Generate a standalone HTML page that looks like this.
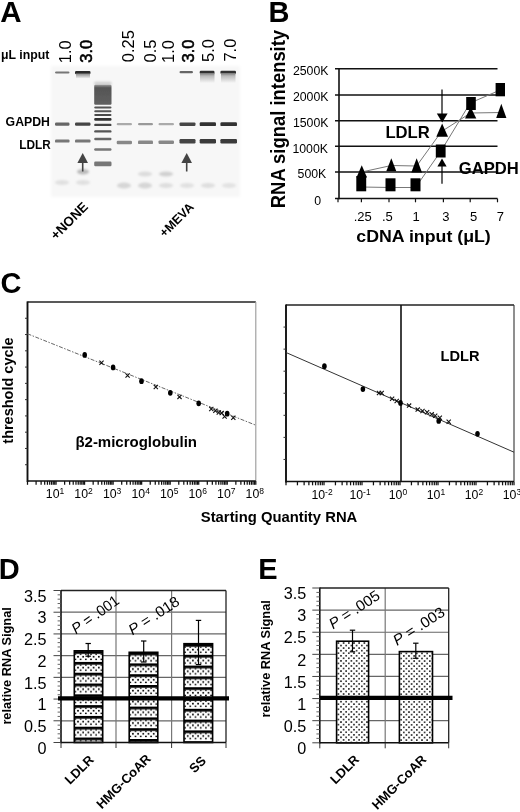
<!DOCTYPE html>
<html><head><meta charset="utf-8"><style>
html,body{margin:0;padding:0;background:#fff;overflow:hidden;}
svg{display:block;will-change:transform;}
text{font-family:"Liberation Sans",sans-serif;}
</style></head><body>
<svg width="520" height="812" viewBox="0 0 520 812">
<defs>
<filter id="b1" x="-20%" y="-100%" width="140%" height="300%"><feGaussianBlur stdDeviation="0.65"/></filter>
<filter id="b2" x="-50%" y="-100%" width="200%" height="300%"><feGaussianBlur stdDeviation="1.2"/></filter>
<linearGradient id="smear" x1="0" y1="0" x2="0" y2="1"><stop offset="0" stop-color="#777"/><stop offset="0.3" stop-color="#bbb"/><stop offset="1" stop-color="#f7f7f7"/></linearGradient>
<linearGradient id="smear2" x1="0" y1="0" x2="0" y2="1"><stop offset="0" stop-color="#888"/><stop offset="1" stop-color="#f4f4f4"/></linearGradient>
<linearGradient id="lad" x1="0" y1="0" x2="0" y2="1"><stop offset="0" stop-color="#999"/><stop offset="0.15" stop-color="#555"/><stop offset="1" stop-color="#606060"/></linearGradient>
<filter id="soft"><feGaussianBlur stdDeviation="1.5"/></filter>
<pattern id="pd74" patternUnits="userSpaceOnUse" x="75.39999999999999" y="651.1222857142857" width="5.2" height="10.8">
<rect width="5.2" height="10.8" fill="#fff"/>
<rect width="5.2" height="2.6" fill="#000"/>
<path d="M-1.6 2.5 L1.6 2.5 L0 4.1 Z M3.6 2.5 L6.8 2.5 L5.2 4.1 Z M1.8 2.5 L3.4 2.5 L2.6 3.2 Z" fill="#000"/>
<circle cx="2.6" cy="5.6" r="0.95" fill="#000"/>
<circle cx="0" cy="8.2" r="0.95" fill="#000"/><circle cx="5.2" cy="8.2" r="0.95" fill="#000"/>
</pattern>
<pattern id="pd129" patternUnits="userSpaceOnUse" x="130.29999999999998" y="652.5988571428571" width="5.2" height="10.8">
<rect width="5.2" height="10.8" fill="#fff"/>
<rect width="5.2" height="2.6" fill="#000"/>
<path d="M-1.6 2.5 L1.6 2.5 L0 4.1 Z M3.6 2.5 L6.8 2.5 L5.2 4.1 Z M1.8 2.5 L3.4 2.5 L2.6 3.2 Z" fill="#000"/>
<circle cx="2.6" cy="5.6" r="0.95" fill="#000"/>
<circle cx="0" cy="8.2" r="0.95" fill="#000"/><circle cx="5.2" cy="8.2" r="0.95" fill="#000"/>
</pattern>
<pattern id="pd184" patternUnits="userSpaceOnUse" x="185.1" y="644.0" width="5.2" height="10.8">
<rect width="5.2" height="10.8" fill="#fff"/>
<rect width="5.2" height="2.6" fill="#000"/>
<path d="M-1.6 2.5 L1.6 2.5 L0 4.1 Z M3.6 2.5 L6.8 2.5 L5.2 4.1 Z M1.8 2.5 L3.4 2.5 L2.6 3.2 Z" fill="#000"/>
<circle cx="2.6" cy="5.6" r="0.95" fill="#000"/>
<circle cx="0" cy="8.2" r="0.95" fill="#000"/><circle cx="5.2" cy="8.2" r="0.95" fill="#000"/>
</pattern>
<pattern id="pe336" patternUnits="userSpaceOnUse" x="338.40000000000003" y="643.0069714285713" width="5.2" height="5.1">
<rect width="5.2" height="5.1" fill="#fff"/>
<circle cx="0" cy="0" r="0.9" fill="#000"/><circle cx="5.2" cy="0" r="0.9" fill="#000"/><circle cx="0" cy="5.1" r="0.9" fill="#000"/><circle cx="5.2" cy="5.1" r="0.9" fill="#000"/>
<circle cx="2.6" cy="2.55" r="0.9" fill="#000"/>
</pattern>
<pattern id="pe399" patternUnits="userSpaceOnUse" x="401.2" y="653.4006857142856" width="5.2" height="5.1">
<rect width="5.2" height="5.1" fill="#fff"/>
<circle cx="0" cy="0" r="0.9" fill="#000"/><circle cx="5.2" cy="0" r="0.9" fill="#000"/><circle cx="0" cy="5.1" r="0.9" fill="#000"/><circle cx="5.2" cy="5.1" r="0.9" fill="#000"/>
<circle cx="2.6" cy="2.55" r="0.9" fill="#000"/>
</pattern>
</defs>
<rect width="520" height="812" fill="#fff"/>
<text x="0.3" y="21.8" font-size="29.5" font-weight="bold" text-anchor="start" fill="#000" >A</text>
<text x="1" y="58.7" font-size="12.3" font-weight="bold" text-anchor="start" fill="#000" >&#956;L input</text>
<text x="50" y="126.3" font-size="12.3" font-weight="bold" text-anchor="end" textLength="44.4" lengthAdjust="spacingAndGlyphs" fill="#000" >GAPDH</text>
<text x="50.9" y="148.8" font-size="12.3" font-weight="bold" text-anchor="end" textLength="31.6" lengthAdjust="spacingAndGlyphs" fill="#000" >LDLR</text>
<rect x="51" y="66" width="189" height="131" fill="#f7f7f7" filter="url(#soft)"/>
<text transform="translate(71.2,63.3) rotate(-90)" font-size="16.5" text-anchor="start" fill="#000" >1.0</text>
<text transform="translate(91.8,62.8) rotate(-90)" font-size="16.5" text-anchor="start" fill="#000" stroke="#000" stroke-width="0.55">3.0</text>
<text transform="translate(134.4,62.2) rotate(-90)" font-size="16.5" text-anchor="start" fill="#000" >0.25</text>
<text transform="translate(155.9,62.5) rotate(-90)" font-size="16.5" text-anchor="start" fill="#000" >0.5</text>
<text transform="translate(173.7,63) rotate(-90)" font-size="16.5" text-anchor="start" fill="#000" >1.0</text>
<text transform="translate(194.4,62.4) rotate(-90)" font-size="16.5" text-anchor="start" fill="#000" stroke="#000" stroke-width="0.55">3.0</text>
<text transform="translate(214,62) rotate(-90)" font-size="16.5" text-anchor="start" fill="#000" >5.0</text>
<text transform="translate(236,61.6) rotate(-90)" font-size="16.5" text-anchor="start" fill="#000" >7.0</text>
<rect x="55" y="71.4" width="14.5" height="2" rx="1.2" fill="#777" filter="url(#b1)"/>
<rect x="75" y="71.0" width="15.5" height="3.2" rx="1.2" fill="#2a2a2a" filter="url(#b1)"/>
<rect x="179.5" y="71.10000000000001" width="13.5" height="2.2" rx="1.2" fill="#666" filter="url(#b1)"/>
<rect x="199.7" y="70.7" width="14.800000000000011" height="3.2" rx="1.2" fill="#333" filter="url(#b1)"/>
<rect x="220.4" y="70.7" width="15.599999999999994" height="3.2" rx="1.2" fill="#333" filter="url(#b1)"/>
<rect x="200" y="73" width="14.5" height="10" fill="url(#smear)" filter="url(#b1)"/>
<rect x="221" y="73" width="14.5" height="10" fill="url(#smear)" filter="url(#b1)"/>
<rect x="76" y="73.5" width="14" height="5" fill="url(#smear2)" filter="url(#b1)"/>
<rect x="55" y="122.60000000000001" width="14.5" height="3.2" rx="1.2" fill="#666" filter="url(#b1)"/>
<rect x="75" y="122.60000000000001" width="15.5" height="3.2" rx="1.2" fill="#444" filter="url(#b1)"/>
<rect x="116.7" y="123.10000000000001" width="15.299999999999997" height="2.2" rx="1.2" fill="#aaa" filter="url(#b1)"/>
<rect x="138" y="123.10000000000001" width="15" height="2.2" rx="1.2" fill="#999" filter="url(#b1)"/>
<rect x="158.5" y="123.10000000000001" width="15.5" height="2.2" rx="1.2" fill="#aaa" filter="url(#b1)"/>
<rect x="179.5" y="122.4" width="16.0" height="3.6" rx="1.2" fill="#444" filter="url(#b1)"/>
<rect x="199.7" y="122.3" width="16.30000000000001" height="3.8" rx="1.2" fill="#333" filter="url(#b1)"/>
<rect x="220.4" y="122.3" width="16.599999999999994" height="3.8" rx="1.2" fill="#333" filter="url(#b1)"/>
<rect x="55" y="139.4" width="14.5" height="3.2" rx="1.2" fill="#777" filter="url(#b1)"/>
<rect x="75" y="139.4" width="15.5" height="3.2" rx="1.2" fill="#777" filter="url(#b1)"/>
<rect x="116.7" y="140.7" width="15.299999999999997" height="3.6" rx="1.2" fill="#888" filter="url(#b1)"/>
<rect x="138" y="140.5" width="15" height="3.6" rx="1.2" fill="#888" filter="url(#b1)"/>
<rect x="158.5" y="140.39999999999998" width="15.5" height="3.6" rx="1.2" fill="#888" filter="url(#b1)"/>
<rect x="179.5" y="139.10000000000002" width="16.0" height="4.4" rx="1.2" fill="#444" filter="url(#b1)"/>
<rect x="199.7" y="139.0" width="16.30000000000001" height="4.4" rx="1.2" fill="#3a3a3a" filter="url(#b1)"/>
<rect x="220.4" y="139.0" width="16.599999999999994" height="4.4" rx="1.2" fill="#3a3a3a" filter="url(#b1)"/>
<rect x="94.2" y="81.75" width="17.299999999999997" height="3.5" rx="1.2" fill="#d0d0d0" filter="url(#b2)"/>
<rect x="94.2" y="84.8" width="17.3" height="20" rx="1.2" fill="url(#lad)" filter="url(#b1)"/>
<rect x="94.2" y="106.6" width="17.299999999999997" height="2" rx="1.2" fill="#555" filter="url(#b1)"/>
<rect x="94.2" y="110.3" width="17.299999999999997" height="2" rx="1.2" fill="#555" filter="url(#b1)"/>
<rect x="94.2" y="113.9" width="17.299999999999997" height="2.2" rx="1.2" fill="#4a4a4a" filter="url(#b1)"/>
<rect x="94.2" y="117.89999999999999" width="17.299999999999997" height="2.8" rx="1.2" fill="#333" filter="url(#b1)"/>
<rect x="94.2" y="123.7" width="17.299999999999997" height="2.4" rx="1.2" fill="#444" filter="url(#b1)"/>
<rect x="94.2" y="130.20000000000002" width="17.299999999999997" height="2.4" rx="1.2" fill="#555" filter="url(#b1)"/>
<rect x="94.2" y="137.7" width="17.299999999999997" height="2.6" rx="1.2" fill="#666" filter="url(#b1)"/>
<rect x="94.2" y="148.2" width="17.299999999999997" height="2.6" rx="1.2" fill="#777" filter="url(#b1)"/>
<rect x="94.2" y="161.6" width="17.299999999999997" height="4.6" rx="1.2" fill="#777" filter="url(#b1)"/>
<ellipse cx="83" cy="171.8" rx="6" ry="2.8" fill="#bbb" filter="url(#b2)"/>
<ellipse cx="62" cy="182.5" rx="7" ry="2.5" fill="#e0e0e0" filter="url(#b2)"/>
<ellipse cx="83" cy="182.5" rx="7" ry="2.5" fill="#e0e0e0" filter="url(#b2)"/>
<ellipse cx="124" cy="185.5" rx="7" ry="3" fill="#d6d6d6" filter="url(#b2)"/>
<ellipse cx="145" cy="185.5" rx="7" ry="3" fill="#d6d6d6" filter="url(#b2)"/>
<ellipse cx="145" cy="174" rx="7" ry="2.4" fill="#dcdcdc" filter="url(#b2)"/>
<ellipse cx="166" cy="174" rx="7" ry="2.6" fill="#d0d0d0" filter="url(#b2)"/>
<ellipse cx="166" cy="185.5" rx="7" ry="2.5" fill="#dedede" filter="url(#b2)"/>
<ellipse cx="187" cy="185.5" rx="7" ry="2.5" fill="#e0e0e0" filter="url(#b2)"/>
<ellipse cx="208" cy="185.5" rx="7" ry="2.5" fill="#dedede" filter="url(#b2)"/>
<ellipse cx="229" cy="185.5" rx="7" ry="2.5" fill="#e2e2e2" filter="url(#b2)"/>
<path d="M82.7 153 L88.0 163 L77.4 163 Z" fill="#444"/>
<line x1="82.7" y1="162" x2="82.7" y2="171.5" stroke="#444" stroke-width="1.6" />
<path d="M186.7 153 L192.0 163 L181.39999999999998 163 Z" fill="#444"/>
<line x1="186.7" y1="162" x2="186.7" y2="171.5" stroke="#444" stroke-width="1.6" />
<text transform="translate(56,240.5) rotate(-45)" font-size="13.4" font-weight="bold" text-anchor="start" fill="#000" >+NONE</text>
<text transform="translate(164.5,237.8) rotate(-45)" font-size="12.5" font-weight="bold" text-anchor="start" fill="#000" >+MEVA</text>
<text x="268.5" y="21.9" font-size="29" font-weight="bold" text-anchor="start" fill="#000" >B</text>
<text transform="translate(285.2,208.2) rotate(-90)" font-size="19.5" font-weight="bold" text-anchor="start" textLength="178.3" lengthAdjust="spacingAndGlyphs" fill="#000" >RNA signal intensity</text>
<line x1="335" y1="68.7" x2="497.5" y2="68.7" stroke="#111" stroke-width="1.5" />
<text x="328.5" y="75.10000000000001" font-size="12.3" text-anchor="end" fill="#000" >2500K</text>
<line x1="335" y1="95.0" x2="497.5" y2="95.0" stroke="#111" stroke-width="1.5" />
<text x="328.5" y="101.4" font-size="12.3" text-anchor="end" fill="#000" >2000K</text>
<line x1="335" y1="120.8" x2="497.5" y2="120.8" stroke="#111" stroke-width="1.5" />
<text x="328.5" y="127.2" font-size="12.3" text-anchor="end" fill="#000" >1500K</text>
<line x1="335" y1="146.2" x2="497.5" y2="146.2" stroke="#111" stroke-width="1.5" />
<text x="328" y="152.6" font-size="12.3" text-anchor="end" fill="#000" >1000K</text>
<line x1="335" y1="172.0" x2="497.5" y2="172.0" stroke="#111" stroke-width="1.5" />
<text x="326.3" y="178.4" font-size="12.3" text-anchor="end" fill="#000" >500K</text>
<line x1="335" y1="198.6" x2="497.5" y2="198.6" stroke="#111" stroke-width="1.5" />
<text x="321.2" y="205.0" font-size="12.3" text-anchor="end" fill="#000" >0</text>
<line x1="339" y1="68" x2="339" y2="199.3" stroke="#111" stroke-width="1.6" />
<line x1="338" y1="198.6" x2="338" y2="202.3" stroke="#111" stroke-width="1.2" />
<line x1="361.4" y1="198.6" x2="361.4" y2="202.3" stroke="#111" stroke-width="1.2" />
<line x1="389" y1="198.6" x2="389" y2="202.3" stroke="#111" stroke-width="1.2" />
<line x1="415.5" y1="198.6" x2="415.5" y2="202.3" stroke="#111" stroke-width="1.2" />
<line x1="443.4" y1="198.6" x2="443.4" y2="202.3" stroke="#111" stroke-width="1.2" />
<line x1="470.2" y1="198.6" x2="470.2" y2="202.3" stroke="#111" stroke-width="1.2" />
<line x1="497.5" y1="198.6" x2="497.5" y2="202.3" stroke="#111" stroke-width="1.2" />
<text x="353.7" y="221.3" font-size="13" text-anchor="start" fill="#000" >.25</text>
<text x="382" y="221.3" font-size="13" text-anchor="start" fill="#000" >.5</text>
<text x="412.5" y="221.3" font-size="13" text-anchor="start" fill="#000" >1</text>
<text x="442.3" y="221.3" font-size="13" text-anchor="start" fill="#000" >3</text>
<text x="470" y="221.3" font-size="13" text-anchor="start" fill="#000" >5</text>
<text x="496.8" y="221.3" font-size="13" text-anchor="start" fill="#000" >7</text>
<text x="356.3" y="242.2" font-size="16.5" font-weight="bold" text-anchor="start" textLength="134.5" lengthAdjust="spacingAndGlyphs" fill="#000" >cDNA input (&#956;L)</text>
<polyline points="361.7,172 391.3,165.5 416.6,166 441.5,131.5 470.6,113 501.1,112.5" fill="none" stroke="#777" stroke-width="1"/>
<polyline points="361.3,187 390.5,187.5 415.5,187.5 441,151 470.2,103 500.7,89.8" fill="none" stroke="#777" stroke-width="1"/>
<rect x="356.3" y="176" width="9.899999999999977" height="15.300000000000011" fill="#000" />
<rect x="385.5" y="178.3" width="10.0" height="13.0" fill="#000" />
<rect x="410.5" y="178.3" width="10.0" height="13.0" fill="#000" />
<rect x="435.8" y="144.5" width="9.800000000000011" height="13.0" fill="#000" />
<rect x="466.2" y="97" width="9.600000000000023" height="13" fill="#000" />
<rect x="495.6" y="83" width="9.399999999999977" height="13.299999999999997" fill="#000" />
<path d="M361.75 165.2 L367 177.4 L356.5 177.4 Z" fill="#000"/>
<path d="M391.3 158.3 L396.3 171.3 L386.3 171.3 Z" fill="#000"/>
<path d="M416.65 158.3 L422 172.5 L411.3 172.5 Z" fill="#000"/>
<path d="M442.15 123.6 L448 136.8 L436.3 136.8 Z" fill="#000"/>
<path d="M470.65 107 L476.3 118.6 L465 118.6 Z" fill="#000"/>
<path d="M501.29999999999995 103.8 L506.4 118 L496.2 118 Z" fill="#000"/>
<line x1="442" y1="89.4" x2="442" y2="115" stroke="#000" stroke-width="1.2" />
<path d="M436.8 113.6 L447.6 113.6 L442.2 122.6 Z" fill="#000"/>
<path d="M442 158.6 L446.6 166.6 L437.4 166.6 Z" fill="#000"/>
<line x1="442" y1="166" x2="442" y2="183.7" stroke="#000" stroke-width="1.2" />
<text x="385.4" y="137.9" font-size="16.5" font-weight="bold" text-anchor="start" textLength="44.4" lengthAdjust="spacingAndGlyphs" fill="#000" >LDLR</text>
<text x="458.8" y="173.6" font-size="17" font-weight="bold" text-anchor="start" textLength="60" lengthAdjust="spacingAndGlyphs" fill="#000" >GAPDH</text>
<text x="0.5" y="292.7" font-size="29" font-weight="bold" text-anchor="start" fill="#000" >C</text>
<text transform="translate(12.6,443.7) rotate(-90)" font-size="14" font-weight="bold" text-anchor="start" textLength="106.3" lengthAdjust="spacingAndGlyphs" fill="#000" >threshold cycle</text>
<line x1="27.5" y1="302" x2="255.8" y2="302" stroke="#222" stroke-width="1.3" />
<line x1="255.8" y1="302" x2="255.8" y2="481" stroke="#999" stroke-width="1.1" />
<line x1="27.5" y1="301.4" x2="27.5" y2="481.9" stroke="#111" stroke-width="1.9" />
<line x1="27.5" y1="481" x2="255.8" y2="481" stroke="#111" stroke-width="1.6" />
<line x1="25.0" y1="318.27272727272725" x2="27.5" y2="318.27272727272725" stroke="#333" stroke-width="1" />
<line x1="25.0" y1="334.54545454545456" x2="27.5" y2="334.54545454545456" stroke="#333" stroke-width="1" />
<line x1="25.0" y1="350.8181818181818" x2="27.5" y2="350.8181818181818" stroke="#333" stroke-width="1" />
<line x1="25.0" y1="367.0909090909091" x2="27.5" y2="367.0909090909091" stroke="#333" stroke-width="1" />
<line x1="25.0" y1="383.3636363636364" x2="27.5" y2="383.3636363636364" stroke="#333" stroke-width="1" />
<line x1="25.0" y1="399.6363636363636" x2="27.5" y2="399.6363636363636" stroke="#333" stroke-width="1" />
<line x1="25.0" y1="415.9090909090909" x2="27.5" y2="415.9090909090909" stroke="#333" stroke-width="1" />
<line x1="25.0" y1="432.1818181818182" x2="27.5" y2="432.1818181818182" stroke="#333" stroke-width="1" />
<line x1="25.0" y1="448.4545454545455" x2="27.5" y2="448.4545454545455" stroke="#333" stroke-width="1" />
<line x1="25.0" y1="464.72727272727275" x2="27.5" y2="464.72727272727275" stroke="#333" stroke-width="1" />
<line x1="27.5" y1="481" x2="27.5" y2="484.8" stroke="#111" stroke-width="1.25" />
<line x1="36.090643501260864" y1="481" x2="36.090643501260864" y2="484.8" stroke="#111" stroke-width="1.25" />
<line x1="41.11584780656237" y1="481" x2="41.11584780656237" y2="484.8" stroke="#111" stroke-width="1.25" />
<line x1="44.68128700252173" y1="481" x2="44.68128700252173" y2="484.8" stroke="#111" stroke-width="1.25" />
<line x1="47.44685649873914" y1="481" x2="47.44685649873914" y2="484.8" stroke="#111" stroke-width="1.25" />
<line x1="49.70649130782323" y1="481" x2="49.70649130782323" y2="484.8" stroke="#111" stroke-width="1.25" />
<line x1="51.616985316906856" y1="481" x2="51.616985316906856" y2="484.8" stroke="#111" stroke-width="1.25" />
<line x1="53.271930503782585" y1="481" x2="53.271930503782585" y2="484.8" stroke="#111" stroke-width="1.25" />
<line x1="54.731695613124735" y1="481" x2="54.731695613124735" y2="484.8" stroke="#111" stroke-width="1.25" />
<line x1="56.0375" y1="481" x2="56.0375" y2="484.8" stroke="#111" stroke-width="1.25" />
<line x1="64.62814350126087" y1="481" x2="64.62814350126087" y2="484.8" stroke="#111" stroke-width="1.25" />
<line x1="69.65334780656237" y1="481" x2="69.65334780656237" y2="484.8" stroke="#111" stroke-width="1.25" />
<line x1="73.21878700252174" y1="481" x2="73.21878700252174" y2="484.8" stroke="#111" stroke-width="1.25" />
<line x1="75.98435649873915" y1="481" x2="75.98435649873915" y2="484.8" stroke="#111" stroke-width="1.25" />
<line x1="78.24399130782322" y1="481" x2="78.24399130782322" y2="484.8" stroke="#111" stroke-width="1.25" />
<line x1="80.15448531690686" y1="481" x2="80.15448531690686" y2="484.8" stroke="#111" stroke-width="1.25" />
<line x1="81.8094305037826" y1="481" x2="81.8094305037826" y2="484.8" stroke="#111" stroke-width="1.25" />
<line x1="83.26919561312474" y1="481" x2="83.26919561312474" y2="484.8" stroke="#111" stroke-width="1.25" />
<line x1="84.575" y1="481" x2="84.575" y2="484.8" stroke="#111" stroke-width="1.25" />
<line x1="93.16564350126087" y1="481" x2="93.16564350126087" y2="484.8" stroke="#111" stroke-width="1.25" />
<line x1="98.19084780656237" y1="481" x2="98.19084780656237" y2="484.8" stroke="#111" stroke-width="1.25" />
<line x1="101.75628700252173" y1="481" x2="101.75628700252173" y2="484.8" stroke="#111" stroke-width="1.25" />
<line x1="104.52185649873914" y1="481" x2="104.52185649873914" y2="484.8" stroke="#111" stroke-width="1.25" />
<line x1="106.78149130782325" y1="481" x2="106.78149130782325" y2="484.8" stroke="#111" stroke-width="1.25" />
<line x1="108.69198531690687" y1="481" x2="108.69198531690687" y2="484.8" stroke="#111" stroke-width="1.25" />
<line x1="110.3469305037826" y1="481" x2="110.3469305037826" y2="484.8" stroke="#111" stroke-width="1.25" />
<line x1="111.80669561312473" y1="481" x2="111.80669561312473" y2="484.8" stroke="#111" stroke-width="1.25" />
<line x1="113.11250000000001" y1="481" x2="113.11250000000001" y2="484.8" stroke="#111" stroke-width="1.25" />
<line x1="121.70314350126087" y1="481" x2="121.70314350126087" y2="484.8" stroke="#111" stroke-width="1.25" />
<line x1="126.72834780656238" y1="481" x2="126.72834780656238" y2="484.8" stroke="#111" stroke-width="1.25" />
<line x1="130.29378700252175" y1="481" x2="130.29378700252175" y2="484.8" stroke="#111" stroke-width="1.25" />
<line x1="133.05935649873913" y1="481" x2="133.05935649873913" y2="484.8" stroke="#111" stroke-width="1.25" />
<line x1="135.31899130782324" y1="481" x2="135.31899130782324" y2="484.8" stroke="#111" stroke-width="1.25" />
<line x1="137.22948531690685" y1="481" x2="137.22948531690685" y2="484.8" stroke="#111" stroke-width="1.25" />
<line x1="138.8844305037826" y1="481" x2="138.8844305037826" y2="484.8" stroke="#111" stroke-width="1.25" />
<line x1="140.34419561312473" y1="481" x2="140.34419561312473" y2="484.8" stroke="#111" stroke-width="1.25" />
<line x1="141.65" y1="481" x2="141.65" y2="484.8" stroke="#111" stroke-width="1.25" />
<line x1="150.24064350126088" y1="481" x2="150.24064350126088" y2="484.8" stroke="#111" stroke-width="1.25" />
<line x1="155.26584780656236" y1="481" x2="155.26584780656236" y2="484.8" stroke="#111" stroke-width="1.25" />
<line x1="158.83128700252175" y1="481" x2="158.83128700252175" y2="484.8" stroke="#111" stroke-width="1.25" />
<line x1="161.59685649873913" y1="481" x2="161.59685649873913" y2="484.8" stroke="#111" stroke-width="1.25" />
<line x1="163.85649130782323" y1="481" x2="163.85649130782323" y2="484.8" stroke="#111" stroke-width="1.25" />
<line x1="165.76698531690687" y1="481" x2="165.76698531690687" y2="484.8" stroke="#111" stroke-width="1.25" />
<line x1="167.4219305037826" y1="481" x2="167.4219305037826" y2="484.8" stroke="#111" stroke-width="1.25" />
<line x1="168.88169561312475" y1="481" x2="168.88169561312475" y2="484.8" stroke="#111" stroke-width="1.25" />
<line x1="170.1875" y1="481" x2="170.1875" y2="484.8" stroke="#111" stroke-width="1.25" />
<line x1="178.77814350126087" y1="481" x2="178.77814350126087" y2="484.8" stroke="#111" stroke-width="1.25" />
<line x1="183.80334780656239" y1="481" x2="183.80334780656239" y2="484.8" stroke="#111" stroke-width="1.25" />
<line x1="187.36878700252174" y1="481" x2="187.36878700252174" y2="484.8" stroke="#111" stroke-width="1.25" />
<line x1="190.13435649873915" y1="481" x2="190.13435649873915" y2="484.8" stroke="#111" stroke-width="1.25" />
<line x1="192.39399130782326" y1="481" x2="192.39399130782326" y2="484.8" stroke="#111" stroke-width="1.25" />
<line x1="194.30448531690686" y1="481" x2="194.30448531690686" y2="484.8" stroke="#111" stroke-width="1.25" />
<line x1="195.9594305037826" y1="481" x2="195.9594305037826" y2="484.8" stroke="#111" stroke-width="1.25" />
<line x1="197.41919561312474" y1="481" x2="197.41919561312474" y2="484.8" stroke="#111" stroke-width="1.25" />
<line x1="198.72500000000002" y1="481" x2="198.72500000000002" y2="484.8" stroke="#111" stroke-width="1.25" />
<line x1="207.31564350126087" y1="481" x2="207.31564350126087" y2="484.8" stroke="#111" stroke-width="1.25" />
<line x1="212.34084780656238" y1="481" x2="212.34084780656238" y2="484.8" stroke="#111" stroke-width="1.25" />
<line x1="215.90628700252174" y1="481" x2="215.90628700252174" y2="484.8" stroke="#111" stroke-width="1.25" />
<line x1="218.67185649873915" y1="481" x2="218.67185649873915" y2="484.8" stroke="#111" stroke-width="1.25" />
<line x1="220.93149130782325" y1="481" x2="220.93149130782325" y2="484.8" stroke="#111" stroke-width="1.25" />
<line x1="222.84198531690686" y1="481" x2="222.84198531690686" y2="484.8" stroke="#111" stroke-width="1.25" />
<line x1="224.4969305037826" y1="481" x2="224.4969305037826" y2="484.8" stroke="#111" stroke-width="1.25" />
<line x1="225.95669561312477" y1="481" x2="225.95669561312477" y2="484.8" stroke="#111" stroke-width="1.25" />
<line x1="227.26250000000002" y1="481" x2="227.26250000000002" y2="484.8" stroke="#111" stroke-width="1.25" />
<line x1="235.8531435012609" y1="481" x2="235.8531435012609" y2="484.8" stroke="#111" stroke-width="1.25" />
<line x1="240.87834780656237" y1="481" x2="240.87834780656237" y2="484.8" stroke="#111" stroke-width="1.25" />
<line x1="244.44378700252173" y1="481" x2="244.44378700252173" y2="484.8" stroke="#111" stroke-width="1.25" />
<line x1="247.20935649873914" y1="481" x2="247.20935649873914" y2="484.8" stroke="#111" stroke-width="1.25" />
<line x1="249.46899130782325" y1="481" x2="249.46899130782325" y2="484.8" stroke="#111" stroke-width="1.25" />
<line x1="251.37948531690688" y1="481" x2="251.37948531690688" y2="484.8" stroke="#111" stroke-width="1.25" />
<line x1="253.0344305037826" y1="481" x2="253.0344305037826" y2="484.8" stroke="#111" stroke-width="1.25" />
<line x1="254.49419561312476" y1="481" x2="254.49419561312476" y2="484.8" stroke="#111" stroke-width="1.25" />
<line x1="255.8" y1="481" x2="255.8" y2="484.8" stroke="#111" stroke-width="1.25" />
<text x="55.0375" y="498" font-size="12.3" text-anchor="middle">10<tspan font-size="8.5" dy="-4">1</tspan></text>
<text x="83.575" y="498" font-size="12.3" text-anchor="middle">10<tspan font-size="8.5" dy="-4">2</tspan></text>
<text x="112.11250000000001" y="498" font-size="12.3" text-anchor="middle">10<tspan font-size="8.5" dy="-4">3</tspan></text>
<text x="140.65" y="498" font-size="12.3" text-anchor="middle">10<tspan font-size="8.5" dy="-4">4</tspan></text>
<text x="169.1875" y="498" font-size="12.3" text-anchor="middle">10<tspan font-size="8.5" dy="-4">5</tspan></text>
<text x="197.72500000000002" y="498" font-size="12.3" text-anchor="middle">10<tspan font-size="8.5" dy="-4">6</tspan></text>
<text x="226.26250000000002" y="498" font-size="12.3" text-anchor="middle">10<tspan font-size="8.5" dy="-4">7</tspan></text>
<text x="254.8" y="498" font-size="12.3" text-anchor="middle">10<tspan font-size="8.5" dy="-4">8</tspan></text>
<line x1="27.5" y1="333.8" x2="255.8" y2="425.2" stroke="#666" stroke-width="1" stroke-dasharray="4 1.5 1.5 1.5"/>
<ellipse cx="84.7" cy="354.9" rx="2.3" ry="2.9" fill="#000"/>
<ellipse cx="113.1" cy="367.4" rx="2.3" ry="2.9" fill="#000"/>
<ellipse cx="141.5" cy="381.2" rx="2.3" ry="2.9" fill="#000"/>
<ellipse cx="170.3" cy="392.8" rx="2.3" ry="2.9" fill="#000"/>
<ellipse cx="198.7" cy="403.3" rx="2.3" ry="2.9" fill="#000"/>
<ellipse cx="227.2" cy="413.7" rx="2.3" ry="2.9" fill="#000"/>
<path d="M99.4 360.7 L103.6 364.90000000000003 M103.6 360.7 L99.4 364.90000000000003" stroke="#111" stroke-width="1.1" fill="none"/>
<path d="M125.5 373.4 L129.7 377.6 M129.7 373.4 L125.5 377.6" stroke="#111" stroke-width="1.1" fill="none"/>
<path d="M153.70000000000002 384.9 L157.9 389.1 M157.9 384.9 L153.70000000000002 389.1" stroke="#111" stroke-width="1.1" fill="none"/>
<path d="M177.4 394.79999999999995 L181.6 399.0 M181.6 394.79999999999995 L177.4 399.0" stroke="#111" stroke-width="1.1" fill="none"/>
<path d="M209.20000000000002 406.9 L213.4 411.1 M213.4 406.9 L209.20000000000002 411.1" stroke="#111" stroke-width="1.1" fill="none"/>
<path d="M213.3 408.7 L217.5 412.90000000000003 M217.5 408.7 L213.3 412.90000000000003" stroke="#111" stroke-width="1.1" fill="none"/>
<path d="M216.70000000000002 410.4 L220.9 414.6 M220.9 410.4 L216.70000000000002 414.6" stroke="#111" stroke-width="1.1" fill="none"/>
<path d="M219.6 411.0 L223.79999999999998 415.20000000000005 M223.79999999999998 411.0 L219.6 415.20000000000005" stroke="#111" stroke-width="1.1" fill="none"/>
<path d="M222.5 414.4 L226.7 418.6 M226.7 414.4 L222.5 418.6" stroke="#111" stroke-width="1.1" fill="none"/>
<path d="M231.20000000000002 415.59999999999997 L235.4 419.8 M235.4 415.59999999999997 L231.20000000000002 419.8" stroke="#111" stroke-width="1.1" fill="none"/>
<text x="75.4" y="447" font-size="15" font-weight="bold" text-anchor="start" textLength="121.6" lengthAdjust="spacingAndGlyphs" fill="#000" >&#946;2-microglobulin</text>
<line x1="286" y1="305" x2="514" y2="305" stroke="#222" stroke-width="1.3" />
<line x1="514" y1="305" x2="514" y2="481.5" stroke="#333" stroke-width="1.1" />
<line x1="286" y1="304.4" x2="286" y2="482.4" stroke="#111" stroke-width="1.9" />
<line x1="286" y1="481.5" x2="514" y2="481.5" stroke="#111" stroke-width="1.6" />
<line x1="283.5" y1="327.0625" x2="286" y2="327.0625" stroke="#333" stroke-width="1" />
<line x1="283.5" y1="349.125" x2="286" y2="349.125" stroke="#333" stroke-width="1" />
<line x1="283.5" y1="371.1875" x2="286" y2="371.1875" stroke="#333" stroke-width="1" />
<line x1="283.5" y1="393.25" x2="286" y2="393.25" stroke="#333" stroke-width="1" />
<line x1="283.5" y1="415.3125" x2="286" y2="415.3125" stroke="#333" stroke-width="1" />
<line x1="283.5" y1="437.375" x2="286" y2="437.375" stroke="#333" stroke-width="1" />
<line x1="283.5" y1="459.4375" x2="286" y2="459.4375" stroke="#333" stroke-width="1" />
<line x1="286.0" y1="481.5" x2="286.0" y2="485.3" stroke="#111" stroke-width="1.25" />
<line x1="297.4391398352313" y1="481.5" x2="297.4391398352313" y2="485.3" stroke="#111" stroke-width="1.25" />
<line x1="304.1306076793472" y1="481.5" x2="304.1306076793472" y2="485.3" stroke="#111" stroke-width="1.25" />
<line x1="308.8782796704626" y1="481.5" x2="308.8782796704626" y2="485.3" stroke="#111" stroke-width="1.25" />
<line x1="312.5608601647687" y1="481.5" x2="312.5608601647687" y2="485.3" stroke="#111" stroke-width="1.25" />
<line x1="315.56974751457847" y1="481.5" x2="315.56974751457847" y2="485.3" stroke="#111" stroke-width="1.25" />
<line x1="318.1137255205418" y1="481.5" x2="318.1137255205418" y2="485.3" stroke="#111" stroke-width="1.25" />
<line x1="320.31741950569386" y1="481.5" x2="320.31741950569386" y2="485.3" stroke="#111" stroke-width="1.25" />
<line x1="322.26121535869436" y1="481.5" x2="322.26121535869436" y2="485.3" stroke="#111" stroke-width="1.25" />
<line x1="324.0" y1="481.5" x2="324.0" y2="485.3" stroke="#111" stroke-width="1.25" />
<line x1="335.4391398352313" y1="481.5" x2="335.4391398352313" y2="485.3" stroke="#111" stroke-width="1.25" />
<line x1="342.1306076793472" y1="481.5" x2="342.1306076793472" y2="485.3" stroke="#111" stroke-width="1.25" />
<line x1="346.8782796704626" y1="481.5" x2="346.8782796704626" y2="485.3" stroke="#111" stroke-width="1.25" />
<line x1="350.5608601647687" y1="481.5" x2="350.5608601647687" y2="485.3" stroke="#111" stroke-width="1.25" />
<line x1="353.56974751457847" y1="481.5" x2="353.56974751457847" y2="485.3" stroke="#111" stroke-width="1.25" />
<line x1="356.1137255205418" y1="481.5" x2="356.1137255205418" y2="485.3" stroke="#111" stroke-width="1.25" />
<line x1="358.31741950569386" y1="481.5" x2="358.31741950569386" y2="485.3" stroke="#111" stroke-width="1.25" />
<line x1="360.26121535869436" y1="481.5" x2="360.26121535869436" y2="485.3" stroke="#111" stroke-width="1.25" />
<line x1="362.0" y1="481.5" x2="362.0" y2="485.3" stroke="#111" stroke-width="1.25" />
<line x1="373.4391398352313" y1="481.5" x2="373.4391398352313" y2="485.3" stroke="#111" stroke-width="1.25" />
<line x1="380.1306076793472" y1="481.5" x2="380.1306076793472" y2="485.3" stroke="#111" stroke-width="1.25" />
<line x1="384.8782796704626" y1="481.5" x2="384.8782796704626" y2="485.3" stroke="#111" stroke-width="1.25" />
<line x1="388.5608601647687" y1="481.5" x2="388.5608601647687" y2="485.3" stroke="#111" stroke-width="1.25" />
<line x1="391.56974751457847" y1="481.5" x2="391.56974751457847" y2="485.3" stroke="#111" stroke-width="1.25" />
<line x1="394.1137255205418" y1="481.5" x2="394.1137255205418" y2="485.3" stroke="#111" stroke-width="1.25" />
<line x1="396.31741950569386" y1="481.5" x2="396.31741950569386" y2="485.3" stroke="#111" stroke-width="1.25" />
<line x1="398.26121535869436" y1="481.5" x2="398.26121535869436" y2="485.3" stroke="#111" stroke-width="1.25" />
<line x1="400.0" y1="481.5" x2="400.0" y2="485.3" stroke="#111" stroke-width="1.25" />
<line x1="411.4391398352313" y1="481.5" x2="411.4391398352313" y2="485.3" stroke="#111" stroke-width="1.25" />
<line x1="418.1306076793472" y1="481.5" x2="418.1306076793472" y2="485.3" stroke="#111" stroke-width="1.25" />
<line x1="422.8782796704626" y1="481.5" x2="422.8782796704626" y2="485.3" stroke="#111" stroke-width="1.25" />
<line x1="426.5608601647687" y1="481.5" x2="426.5608601647687" y2="485.3" stroke="#111" stroke-width="1.25" />
<line x1="429.56974751457847" y1="481.5" x2="429.56974751457847" y2="485.3" stroke="#111" stroke-width="1.25" />
<line x1="432.1137255205418" y1="481.5" x2="432.1137255205418" y2="485.3" stroke="#111" stroke-width="1.25" />
<line x1="434.31741950569386" y1="481.5" x2="434.31741950569386" y2="485.3" stroke="#111" stroke-width="1.25" />
<line x1="436.26121535869436" y1="481.5" x2="436.26121535869436" y2="485.3" stroke="#111" stroke-width="1.25" />
<line x1="438.0" y1="481.5" x2="438.0" y2="485.3" stroke="#111" stroke-width="1.25" />
<line x1="449.4391398352313" y1="481.5" x2="449.4391398352313" y2="485.3" stroke="#111" stroke-width="1.25" />
<line x1="456.1306076793472" y1="481.5" x2="456.1306076793472" y2="485.3" stroke="#111" stroke-width="1.25" />
<line x1="460.8782796704626" y1="481.5" x2="460.8782796704626" y2="485.3" stroke="#111" stroke-width="1.25" />
<line x1="464.5608601647687" y1="481.5" x2="464.5608601647687" y2="485.3" stroke="#111" stroke-width="1.25" />
<line x1="467.56974751457847" y1="481.5" x2="467.56974751457847" y2="485.3" stroke="#111" stroke-width="1.25" />
<line x1="470.1137255205418" y1="481.5" x2="470.1137255205418" y2="485.3" stroke="#111" stroke-width="1.25" />
<line x1="472.31741950569386" y1="481.5" x2="472.31741950569386" y2="485.3" stroke="#111" stroke-width="1.25" />
<line x1="474.26121535869436" y1="481.5" x2="474.26121535869436" y2="485.3" stroke="#111" stroke-width="1.25" />
<line x1="476.0" y1="481.5" x2="476.0" y2="485.3" stroke="#111" stroke-width="1.25" />
<line x1="487.4391398352313" y1="481.5" x2="487.4391398352313" y2="485.3" stroke="#111" stroke-width="1.25" />
<line x1="494.1306076793472" y1="481.5" x2="494.1306076793472" y2="485.3" stroke="#111" stroke-width="1.25" />
<line x1="498.8782796704626" y1="481.5" x2="498.8782796704626" y2="485.3" stroke="#111" stroke-width="1.25" />
<line x1="502.5608601647687" y1="481.5" x2="502.5608601647687" y2="485.3" stroke="#111" stroke-width="1.25" />
<line x1="505.56974751457847" y1="481.5" x2="505.56974751457847" y2="485.3" stroke="#111" stroke-width="1.25" />
<line x1="508.1137255205418" y1="481.5" x2="508.1137255205418" y2="485.3" stroke="#111" stroke-width="1.25" />
<line x1="510.31741950569386" y1="481.5" x2="510.31741950569386" y2="485.3" stroke="#111" stroke-width="1.25" />
<line x1="512.2612153586944" y1="481.5" x2="512.2612153586944" y2="485.3" stroke="#111" stroke-width="1.25" />
<line x1="514" y1="481.5" x2="514" y2="485.3" stroke="#111" stroke-width="1.25" />
<text x="322.0" y="498.5" font-size="12.3" text-anchor="middle">10<tspan font-size="8.5" dy="-4">-2</tspan></text>
<text x="360.0" y="498.5" font-size="12.3" text-anchor="middle">10<tspan font-size="8.5" dy="-4">-1</tspan></text>
<text x="398.0" y="498.5" font-size="12.3" text-anchor="middle">10<tspan font-size="8.5" dy="-4">0</tspan></text>
<text x="436.0" y="498.5" font-size="12.3" text-anchor="middle">10<tspan font-size="8.5" dy="-4">1</tspan></text>
<text x="474.0" y="498.5" font-size="12.3" text-anchor="middle">10<tspan font-size="8.5" dy="-4">2</tspan></text>
<text x="512.0" y="498.5" font-size="12.3" text-anchor="middle">10<tspan font-size="8.5" dy="-4">3</tspan></text>
<line x1="401" y1="305" x2="401" y2="481.5" stroke="#111" stroke-width="1.6" />
<line x1="286" y1="352.5" x2="514" y2="452.2" stroke="#333" stroke-width="1"/>
<ellipse cx="324.4" cy="366.2" rx="2.3" ry="2.9" fill="#000"/>
<ellipse cx="362.9" cy="389.1" rx="2.3" ry="2.9" fill="#000"/>
<ellipse cx="400.5" cy="402.9" rx="2.3" ry="2.9" fill="#000"/>
<ellipse cx="438.7" cy="420.9" rx="2.3" ry="2.9" fill="#000"/>
<ellipse cx="477.5" cy="433.8" rx="2.3" ry="2.9" fill="#000"/>
<path d="M376.9 390.9 L381.1 395.1 M381.1 390.9 L376.9 395.1" stroke="#111" stroke-width="1.1" fill="none"/>
<path d="M379.59999999999997 390.9 L383.8 395.1 M383.8 390.9 L379.59999999999997 395.1" stroke="#111" stroke-width="1.1" fill="none"/>
<path d="M390.0 396.7 L394.20000000000005 400.90000000000003 M394.20000000000005 396.7 L390.0 400.90000000000003" stroke="#111" stroke-width="1.1" fill="none"/>
<path d="M394.59999999999997 398.9 L398.8 403.1 M398.8 398.9 L394.59999999999997 403.1" stroke="#111" stroke-width="1.1" fill="none"/>
<path d="M407.0 403.5 L411.20000000000005 407.70000000000005 M411.20000000000005 403.5 L407.0 407.70000000000005" stroke="#111" stroke-width="1.1" fill="none"/>
<path d="M415.59999999999997 407.5 L419.8 411.70000000000005 M419.8 407.5 L415.59999999999997 411.70000000000005" stroke="#111" stroke-width="1.1" fill="none"/>
<path d="M420.4 408.9 L424.6 413.1 M424.6 408.9 L420.4 413.1" stroke="#111" stroke-width="1.1" fill="none"/>
<path d="M425.0 410.2 L429.20000000000005 414.40000000000003 M429.20000000000005 410.2 L425.0 414.40000000000003" stroke="#111" stroke-width="1.1" fill="none"/>
<path d="M429.59999999999997 412.09999999999997 L433.8 416.3 M433.8 412.09999999999997 L429.59999999999997 416.3" stroke="#111" stroke-width="1.1" fill="none"/>
<path d="M433.09999999999997 413.7 L437.3 417.90000000000003 M437.3 413.7 L433.09999999999997 417.90000000000003" stroke="#111" stroke-width="1.1" fill="none"/>
<path d="M437.7 415.59999999999997 L441.90000000000003 419.8 M441.90000000000003 415.59999999999997 L437.7 419.8" stroke="#111" stroke-width="1.1" fill="none"/>
<path d="M446.59999999999997 419.59999999999997 L450.8 423.8 M450.8 419.59999999999997 L446.59999999999997 423.8" stroke="#111" stroke-width="1.1" fill="none"/>
<text x="440.6" y="361.4" font-size="14.5" font-weight="bold" text-anchor="start" textLength="39" lengthAdjust="spacingAndGlyphs" fill="#000" >LDLR</text>
<text x="200.8" y="522" font-size="14.5" font-weight="bold" text-anchor="start" textLength="156.5" lengthAdjust="spacingAndGlyphs" fill="#000" >Starting Quantity RNA</text>
<text x="-1.2" y="579" font-size="29" font-weight="bold" text-anchor="start" fill="#000" >D</text>
<line x1="61" y1="720.7857142857143" x2="226" y2="720.7857142857143" stroke="#666" stroke-width="1.2" />
<line x1="61" y1="699.0714285714286" x2="226" y2="699.0714285714286" stroke="#666" stroke-width="1.2" />
<line x1="61" y1="677.3571428571429" x2="226" y2="677.3571428571429" stroke="#666" stroke-width="1.2" />
<line x1="61" y1="655.6428571428571" x2="226" y2="655.6428571428571" stroke="#666" stroke-width="1.2" />
<line x1="61" y1="633.9285714285714" x2="226" y2="633.9285714285714" stroke="#666" stroke-width="1.2" />
<line x1="61" y1="612.2142857142858" x2="226" y2="612.2142857142858" stroke="#666" stroke-width="1.2" />
<line x1="116" y1="590.5" x2="116" y2="742.5" stroke="#777" stroke-width="1.2" />
<line x1="171.6" y1="590.5" x2="171.6" y2="742.5" stroke="#777" stroke-width="1.2" />
<rect x="74.3" y="650.8222857142857" width="28.400000000000006" height="91.67771428571427" fill="url(#pd74)" stroke="#000" stroke-width="1.6"/>
<line x1="88.2" y1="643.5" x2="88.2" y2="656.2" stroke="#000" stroke-width="1.2" />
<line x1="85.5" y1="643.5" x2="90.9" y2="643.5" stroke="#000" stroke-width="1.2" />
<line x1="85.5" y1="656.2" x2="90.9" y2="656.2" stroke="#000" stroke-width="1.2" />
<rect x="129.2" y="652.2988571428572" width="28.600000000000023" height="90.20114285714283" fill="url(#pd129)" stroke="#000" stroke-width="1.6"/>
<line x1="143.7" y1="641" x2="143.7" y2="662" stroke="#000" stroke-width="1.2" />
<line x1="141.0" y1="641" x2="146.39999999999998" y2="641" stroke="#000" stroke-width="1.2" />
<line x1="141.0" y1="662" x2="146.39999999999998" y2="662" stroke="#000" stroke-width="1.2" />
<rect x="184" y="643.7" width="28.599999999999994" height="98.79999999999995" fill="url(#pd184)" stroke="#000" stroke-width="1.6"/>
<line x1="198.5" y1="620.4" x2="198.5" y2="664.6" stroke="#000" stroke-width="1.2" />
<line x1="195.8" y1="620.4" x2="201.2" y2="620.4" stroke="#000" stroke-width="1.2" />
<line x1="195.8" y1="664.6" x2="201.2" y2="664.6" stroke="#000" stroke-width="1.2" />
<line x1="61" y1="590.5" x2="226" y2="590.5" stroke="#222" stroke-width="1.3" />
<line x1="226" y1="590.5" x2="226" y2="742.5" stroke="#222" stroke-width="1.3" />
<line x1="61" y1="742.5" x2="226" y2="742.5" stroke="#111" stroke-width="1.6" />
<line x1="61" y1="590.0" x2="61" y2="743.3" stroke="#111" stroke-width="1.6" />
<line x1="53.5" y1="742.5" x2="61" y2="742.5" stroke="#444" stroke-width="1" />
<line x1="57.6" y1="738.1571428571428" x2="61" y2="738.1571428571428" stroke="#555" stroke-width="0.9" />
<line x1="57.6" y1="733.8142857142857" x2="61" y2="733.8142857142857" stroke="#555" stroke-width="0.9" />
<line x1="57.6" y1="729.4714285714285" x2="61" y2="729.4714285714285" stroke="#555" stroke-width="0.9" />
<line x1="57.6" y1="725.1285714285714" x2="61" y2="725.1285714285714" stroke="#555" stroke-width="0.9" />
<line x1="53.5" y1="720.7857142857143" x2="61" y2="720.7857142857143" stroke="#444" stroke-width="1" />
<line x1="57.6" y1="716.4428571428572" x2="61" y2="716.4428571428572" stroke="#555" stroke-width="0.9" />
<line x1="57.6" y1="712.1" x2="61" y2="712.1" stroke="#555" stroke-width="0.9" />
<line x1="57.6" y1="707.7571428571429" x2="61" y2="707.7571428571429" stroke="#555" stroke-width="0.9" />
<line x1="57.6" y1="703.4142857142857" x2="61" y2="703.4142857142857" stroke="#555" stroke-width="0.9" />
<line x1="53.5" y1="699.0714285714286" x2="61" y2="699.0714285714286" stroke="#444" stroke-width="1" />
<line x1="57.6" y1="694.7285714285714" x2="61" y2="694.7285714285714" stroke="#555" stroke-width="0.9" />
<line x1="57.6" y1="690.3857142857142" x2="61" y2="690.3857142857142" stroke="#555" stroke-width="0.9" />
<line x1="57.6" y1="686.0428571428571" x2="61" y2="686.0428571428571" stroke="#555" stroke-width="0.9" />
<line x1="57.6" y1="681.7" x2="61" y2="681.7" stroke="#555" stroke-width="0.9" />
<line x1="53.5" y1="677.3571428571429" x2="61" y2="677.3571428571429" stroke="#444" stroke-width="1" />
<line x1="57.6" y1="673.0142857142857" x2="61" y2="673.0142857142857" stroke="#555" stroke-width="0.9" />
<line x1="57.6" y1="668.6714285714286" x2="61" y2="668.6714285714286" stroke="#555" stroke-width="0.9" />
<line x1="57.6" y1="664.3285714285714" x2="61" y2="664.3285714285714" stroke="#555" stroke-width="0.9" />
<line x1="57.6" y1="659.9857142857143" x2="61" y2="659.9857142857143" stroke="#555" stroke-width="0.9" />
<line x1="53.5" y1="655.6428571428571" x2="61" y2="655.6428571428571" stroke="#444" stroke-width="1" />
<line x1="57.6" y1="651.3" x2="61" y2="651.3" stroke="#555" stroke-width="0.9" />
<line x1="57.6" y1="646.9571428571428" x2="61" y2="646.9571428571428" stroke="#555" stroke-width="0.9" />
<line x1="57.6" y1="642.6142857142856" x2="61" y2="642.6142857142856" stroke="#555" stroke-width="0.9" />
<line x1="57.6" y1="638.2714285714286" x2="61" y2="638.2714285714286" stroke="#555" stroke-width="0.9" />
<line x1="53.5" y1="633.9285714285714" x2="61" y2="633.9285714285714" stroke="#444" stroke-width="1" />
<line x1="57.6" y1="629.5857142857143" x2="61" y2="629.5857142857143" stroke="#555" stroke-width="0.9" />
<line x1="57.6" y1="625.2428571428571" x2="61" y2="625.2428571428571" stroke="#555" stroke-width="0.9" />
<line x1="57.6" y1="620.9" x2="61" y2="620.9" stroke="#555" stroke-width="0.9" />
<line x1="57.6" y1="616.5571428571428" x2="61" y2="616.5571428571428" stroke="#555" stroke-width="0.9" />
<line x1="53.5" y1="612.2142857142858" x2="61" y2="612.2142857142858" stroke="#444" stroke-width="1" />
<line x1="57.6" y1="607.8714285714286" x2="61" y2="607.8714285714286" stroke="#555" stroke-width="0.9" />
<line x1="57.6" y1="603.5285714285715" x2="61" y2="603.5285714285715" stroke="#555" stroke-width="0.9" />
<line x1="57.6" y1="599.1857142857143" x2="61" y2="599.1857142857143" stroke="#555" stroke-width="0.9" />
<line x1="57.6" y1="594.8428571428572" x2="61" y2="594.8428571428572" stroke="#555" stroke-width="0.9" />
<line x1="53.5" y1="590.5" x2="61" y2="590.5" stroke="#444" stroke-width="1" />
<line x1="61" y1="742.5" x2="61" y2="748.0" stroke="#333" stroke-width="1" />
<line x1="116" y1="742.5" x2="116" y2="748.0" stroke="#333" stroke-width="1" />
<line x1="171.6" y1="742.5" x2="171.6" y2="748.0" stroke="#333" stroke-width="1" />
<line x1="226" y1="742.5" x2="226" y2="748.0" stroke="#333" stroke-width="1" />
<line x1="58" y1="698.4714285714285" x2="229" y2="698.4714285714285" stroke="#000" stroke-width="4.2" />
<text x="46.4" y="753.7" font-size="16.2" text-anchor="end" fill="#000" >0</text>
<text x="46.4" y="731.9857142857144" font-size="16.2" text-anchor="end" fill="#000" >0.5</text>
<text x="46.4" y="710.2714285714286" font-size="16.2" text-anchor="end" fill="#000" >1</text>
<text x="46.4" y="688.5571428571429" font-size="16.2" text-anchor="end" fill="#000" >1.5</text>
<text x="46.4" y="666.8428571428572" font-size="16.2" text-anchor="end" fill="#000" >2</text>
<text x="46.4" y="645.1285714285715" font-size="16.2" text-anchor="end" fill="#000" >2.5</text>
<text x="46.4" y="623.4142857142858" font-size="16.2" text-anchor="end" fill="#000" >3</text>
<text x="46.4" y="601.7" font-size="16.2" text-anchor="end" fill="#000" >3.5</text>
<text transform="translate(76,634.5) rotate(-35.5)" font-size="15" textLength="54.5" lengthAdjust="spacingAndGlyphs"><tspan font-style="italic">P</tspan> = .001</text>
<text transform="translate(132.5,635.5) rotate(-33)" font-size="15" textLength="57.5" lengthAdjust="spacingAndGlyphs"><tspan font-style="italic">P</tspan> = .018</text>
<text transform="translate(94.6,760.5) rotate(-45)" font-size="13" font-weight="bold" text-anchor="end" fill="#000" >LDLR</text>
<text transform="translate(151.7,759.5) rotate(-45)" font-size="13" font-weight="bold" text-anchor="end" fill="#000" >HMG-CoAR</text>
<text transform="translate(206.8,761.5) rotate(-45)" font-size="13" font-weight="bold" text-anchor="end" fill="#000" >SS</text>
<text transform="translate(10.5,724.6) rotate(-90)" font-size="12.6" font-weight="bold" text-anchor="start" textLength="117.4" lengthAdjust="spacingAndGlyphs" fill="#000" >relative RNA Signal</text>
<text x="258.3" y="578.6" font-size="29" font-weight="bold" text-anchor="start" fill="#000" >E</text>
<line x1="319.8" y1="720.6857142857142" x2="448.7" y2="720.6857142857142" stroke="#666" stroke-width="1.2" />
<line x1="319.8" y1="698.5714285714286" x2="448.7" y2="698.5714285714286" stroke="#666" stroke-width="1.2" />
<line x1="319.8" y1="676.4571428571428" x2="448.7" y2="676.4571428571428" stroke="#666" stroke-width="1.2" />
<line x1="319.8" y1="654.3428571428572" x2="448.7" y2="654.3428571428572" stroke="#666" stroke-width="1.2" />
<line x1="319.8" y1="632.2285714285714" x2="448.7" y2="632.2285714285714" stroke="#666" stroke-width="1.2" />
<line x1="319.8" y1="610.1142857142856" x2="448.7" y2="610.1142857142856" stroke="#666" stroke-width="1.2" />
<line x1="385.2" y1="588" x2="385.2" y2="742.8" stroke="#777" stroke-width="1.2" />
<rect x="336.6" y="641.2069714285714" width="32.0" height="101.59302857142859" fill="url(#pe336)" stroke="#000" stroke-width="1.6"/>
<line x1="352.5" y1="630.2" x2="352.5" y2="651.8" stroke="#000" stroke-width="1.2" />
<line x1="349.8" y1="630.2" x2="355.2" y2="630.2" stroke="#000" stroke-width="1.2" />
<line x1="349.8" y1="651.8" x2="355.2" y2="651.8" stroke="#000" stroke-width="1.2" />
<rect x="399.4" y="651.6006857142856" width="33.10000000000002" height="91.19931428571431" fill="url(#pe399)" stroke="#000" stroke-width="1.6"/>
<line x1="415.8" y1="643.2" x2="415.8" y2="658.3" stroke="#000" stroke-width="1.2" />
<line x1="413.1" y1="643.2" x2="418.5" y2="643.2" stroke="#000" stroke-width="1.2" />
<line x1="413.1" y1="658.3" x2="418.5" y2="658.3" stroke="#000" stroke-width="1.2" />
<line x1="319.8" y1="588" x2="448.7" y2="588" stroke="#222" stroke-width="1.3" />
<line x1="448.7" y1="588" x2="448.7" y2="742.8" stroke="#222" stroke-width="1.3" />
<line x1="319.8" y1="742.8" x2="448.7" y2="742.8" stroke="#111" stroke-width="1.6" />
<line x1="319.8" y1="587.5" x2="319.8" y2="743.5999999999999" stroke="#111" stroke-width="1.6" />
<line x1="312.3" y1="742.8" x2="319.8" y2="742.8" stroke="#444" stroke-width="1" />
<line x1="316.40000000000003" y1="738.3771428571428" x2="319.8" y2="738.3771428571428" stroke="#555" stroke-width="0.9" />
<line x1="316.40000000000003" y1="733.9542857142857" x2="319.8" y2="733.9542857142857" stroke="#555" stroke-width="0.9" />
<line x1="316.40000000000003" y1="729.5314285714285" x2="319.8" y2="729.5314285714285" stroke="#555" stroke-width="0.9" />
<line x1="316.40000000000003" y1="725.1085714285714" x2="319.8" y2="725.1085714285714" stroke="#555" stroke-width="0.9" />
<line x1="312.3" y1="720.6857142857142" x2="319.8" y2="720.6857142857142" stroke="#444" stroke-width="1" />
<line x1="316.40000000000003" y1="716.2628571428571" x2="319.8" y2="716.2628571428571" stroke="#555" stroke-width="0.9" />
<line x1="316.40000000000003" y1="711.8399999999999" x2="319.8" y2="711.8399999999999" stroke="#555" stroke-width="0.9" />
<line x1="316.40000000000003" y1="707.4171428571428" x2="319.8" y2="707.4171428571428" stroke="#555" stroke-width="0.9" />
<line x1="316.40000000000003" y1="702.9942857142856" x2="319.8" y2="702.9942857142856" stroke="#555" stroke-width="0.9" />
<line x1="312.3" y1="698.5714285714286" x2="319.8" y2="698.5714285714286" stroke="#444" stroke-width="1" />
<line x1="316.40000000000003" y1="694.1485714285714" x2="319.8" y2="694.1485714285714" stroke="#555" stroke-width="0.9" />
<line x1="316.40000000000003" y1="689.7257142857143" x2="319.8" y2="689.7257142857143" stroke="#555" stroke-width="0.9" />
<line x1="316.40000000000003" y1="685.3028571428571" x2="319.8" y2="685.3028571428571" stroke="#555" stroke-width="0.9" />
<line x1="316.40000000000003" y1="680.88" x2="319.8" y2="680.88" stroke="#555" stroke-width="0.9" />
<line x1="312.3" y1="676.4571428571428" x2="319.8" y2="676.4571428571428" stroke="#444" stroke-width="1" />
<line x1="316.40000000000003" y1="672.0342857142857" x2="319.8" y2="672.0342857142857" stroke="#555" stroke-width="0.9" />
<line x1="316.40000000000003" y1="667.6114285714285" x2="319.8" y2="667.6114285714285" stroke="#555" stroke-width="0.9" />
<line x1="316.40000000000003" y1="663.1885714285714" x2="319.8" y2="663.1885714285714" stroke="#555" stroke-width="0.9" />
<line x1="316.40000000000003" y1="658.7657142857142" x2="319.8" y2="658.7657142857142" stroke="#555" stroke-width="0.9" />
<line x1="312.3" y1="654.3428571428572" x2="319.8" y2="654.3428571428572" stroke="#444" stroke-width="1" />
<line x1="316.40000000000003" y1="649.92" x2="319.8" y2="649.92" stroke="#555" stroke-width="0.9" />
<line x1="316.40000000000003" y1="645.4971428571429" x2="319.8" y2="645.4971428571429" stroke="#555" stroke-width="0.9" />
<line x1="316.40000000000003" y1="641.0742857142857" x2="319.8" y2="641.0742857142857" stroke="#555" stroke-width="0.9" />
<line x1="316.40000000000003" y1="636.6514285714286" x2="319.8" y2="636.6514285714286" stroke="#555" stroke-width="0.9" />
<line x1="312.3" y1="632.2285714285714" x2="319.8" y2="632.2285714285714" stroke="#444" stroke-width="1" />
<line x1="316.40000000000003" y1="627.8057142857143" x2="319.8" y2="627.8057142857143" stroke="#555" stroke-width="0.9" />
<line x1="316.40000000000003" y1="623.3828571428571" x2="319.8" y2="623.3828571428571" stroke="#555" stroke-width="0.9" />
<line x1="316.40000000000003" y1="618.96" x2="319.8" y2="618.96" stroke="#555" stroke-width="0.9" />
<line x1="316.40000000000003" y1="614.5371428571428" x2="319.8" y2="614.5371428571428" stroke="#555" stroke-width="0.9" />
<line x1="312.3" y1="610.1142857142856" x2="319.8" y2="610.1142857142856" stroke="#444" stroke-width="1" />
<line x1="316.40000000000003" y1="605.6914285714286" x2="319.8" y2="605.6914285714286" stroke="#555" stroke-width="0.9" />
<line x1="316.40000000000003" y1="601.2685714285715" x2="319.8" y2="601.2685714285715" stroke="#555" stroke-width="0.9" />
<line x1="316.40000000000003" y1="596.8457142857143" x2="319.8" y2="596.8457142857143" stroke="#555" stroke-width="0.9" />
<line x1="316.40000000000003" y1="592.4228571428571" x2="319.8" y2="592.4228571428571" stroke="#555" stroke-width="0.9" />
<line x1="312.3" y1="588.0" x2="319.8" y2="588.0" stroke="#444" stroke-width="1" />
<line x1="319.8" y1="742.8" x2="319.8" y2="748.3" stroke="#333" stroke-width="1" />
<line x1="385.2" y1="742.8" x2="385.2" y2="748.3" stroke="#333" stroke-width="1" />
<line x1="448.7" y1="742.8" x2="448.7" y2="748.3" stroke="#333" stroke-width="1" />
<line x1="319.8" y1="697.9714285714285" x2="452.5" y2="697.9714285714285" stroke="#000" stroke-width="4.2" />
<text x="306.2" y="754.0" font-size="16.2" text-anchor="end" fill="#000" >0</text>
<text x="306.2" y="731.8857142857142" font-size="16.2" text-anchor="end" fill="#000" >0.5</text>
<text x="306.2" y="709.7714285714286" font-size="16.2" text-anchor="end" fill="#000" >1</text>
<text x="306.2" y="687.6571428571428" font-size="16.2" text-anchor="end" fill="#000" >1.5</text>
<text x="306.2" y="665.5428571428572" font-size="16.2" text-anchor="end" fill="#000" >2</text>
<text x="306.2" y="643.4285714285714" font-size="16.2" text-anchor="end" fill="#000" >2.5</text>
<text x="306.2" y="621.3142857142857" font-size="16.2" text-anchor="end" fill="#000" >3</text>
<text x="306.2" y="599.2" font-size="16.2" text-anchor="end" fill="#000" >3.5</text>
<text transform="translate(333,629.5) rotate(-33)" font-size="15" textLength="57.5" lengthAdjust="spacingAndGlyphs"><tspan font-style="italic">P</tspan> = .005</text>
<text transform="translate(397,646) rotate(-32.5)" font-size="15" textLength="58" lengthAdjust="spacingAndGlyphs"><tspan font-style="italic">P</tspan> = .003</text>
<text transform="translate(360,760.3) rotate(-45)" font-size="13" font-weight="bold" text-anchor="end" fill="#000" >LDLR</text>
<text transform="translate(427.2,760.3) rotate(-45)" font-size="13" font-weight="bold" text-anchor="end" fill="#000" >HMG-CoAR</text>
<text transform="translate(269.8,717.4) rotate(-90)" font-size="12.6" font-weight="bold" text-anchor="start" textLength="117.2" lengthAdjust="spacingAndGlyphs" fill="#000" >relative RNA Signal</text>
</svg>
</body></html>
